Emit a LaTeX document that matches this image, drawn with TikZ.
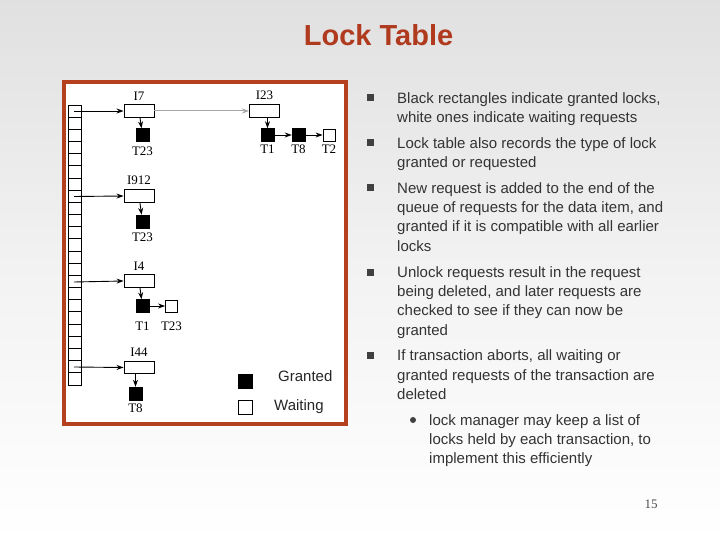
\documentclass[tikz,border=0pt]{standalone}
\usepackage{fontspec}
\setmainfont{Liberation Sans}
\newfontfamily\serifr{Liberation Serif}
\usetikzlibrary{arrows.meta,shadows}
\begin{document}
\begin{tikzpicture}[x=1pt,y=-1pt,
  item/.style={draw,line width=0.9pt,fill=white,minimum width=30pt,minimum height=12.5pt,inner sep=0pt},
  gr/.style={draw,fill=black,minimum size=13pt,inner sep=0pt},
  wt/.style={draw,fill=white,line width=0.8pt,minimum size=12pt,inner sep=0pt},
  lab/.style={font=\serifr\fontsize{13}{13}\selectfont,inner sep=0pt},
  arr/.style={-{Stealth[length=7pt,width=5pt]},line width=0.9pt},
  txt/.style={anchor=base west,inner sep=0pt,font=\fontsize{15}{15}\selectfont,text=black!80},
  bul/.style={fill=black!75,minimum size=7pt,inner sep=0pt}]
\shade[top color=black!12,bottom color=white,middle color=white!95!black] (0,0) rectangle (720,540);
\useasboundingbox (0,0) rectangle (720,540);
\node[font=\bfseries\fontsize{29}{29}\selectfont,text={rgb,255:red,176;green,58;blue,30},
  preaction={}] (title) at (378,35) {\tikz[baseline]\node[inner sep=0pt,anchor=base] at (0,0){};Lock Table};
\draw[line width=4pt,draw={rgb,255:red,181;green,64;blue,31},fill=white] (64,82) rectangle (346,424);
% hash table column
\foreach \i in {0,...,22} \draw[line width=0.8pt] (68,105+\i*12.17) rectangle (81,105+\i*12.17+12.17);
\coordinate (h1) at (74,111); \coordinate (h8) at (74,196.5);
\coordinate (h15) at (74,282); \coordinate (h22) at (74,367);
% items
\node[item] (i7) at (139,111) {}; \node[lab,above=4pt] at (i7.north) {I7};
\node[item] (i23) at (264.5,111) {}; \node[lab,above=4pt] at (i23.north) {I23};
\node[item] (i912) at (139,196) {}; \node[lab,above=4pt] at (i912.north) {I912};
\node[item] (i4) at (139,281) {}; \node[lab,above=4pt] at (i4.north) {I4};
\node[item] (i44) at (139,367.5) {}; \node[lab,above=4pt] at (i44.north) {I44};
\draw[arr] (h1) -- (i7.west);
\draw[arr] (h8) -- (i912.west);
\draw[arr] (h15) -- (i4.west);
\draw[arr] (h22) -- (i44.west);
\draw[-{Stealth[length=7pt,width=5pt]},line width=1pt,draw=black!35] (i7.east) -- (i23.west);
% locks
\node[gr] (a) at (142.5,135) {}; \node[lab,below=5pt] at (a.south) {T23};
\node[gr] (b1) at (267.5,135) {}; \node[lab,below=3pt] at (b1.south) {T1};
\node[gr] (b2) at (298.5,135) {}; \node[lab,below=3pt] at (b2.south) {T8};
\node[wt] (b3) at (329,135) {}; \node[lab,below=3pt] at (b3.south) {T2};
\node[gr] (c) at (142.5,221.5) {}; \node[lab,below=4pt] at (c.south) {T23};
\node[gr] (d1) at (142.5,306) {}; \node[lab,below=9pt] at (d1.south) {T1};
\node[wt] (d2) at (171.5,306) {}; \node[lab,below=9pt] at (d2.south) {T23};
\node[gr] (e) at (135.5,393.5) {}; \node[lab,below=3pt] at (e.south) {T8};
\draw[arr] (i7) -- (a); \draw[arr] (i23.south-|b1) -- (b1);
\draw[arr] (b1) -- (b2); \draw[arr] (b2) -- (b3);
\draw[arr] (i912) -- (c); \draw[arr] (i4) -- (d1); \draw[arr] (d1) -- (d2);
\draw[arr] (i44.south-|e) -- (e);
% legend
\node[gr,minimum size=14pt] (lg) at (245,381) {};
\node[wt,minimum size=14pt] (lw) at (245,407.5) {};
\node[anchor=west,inner sep=0pt,font=\fontsize{15}{15}\selectfont,text=black!85] at (278,376.5) {Granted};
\node[anchor=west,inner sep=0pt,font=\fontsize{15}{15}\selectfont,text=black!85] at (274,407) {Waiting};
% text
\foreach \y in {98,143,188,272,355} \node[bul] at (370,\y) {};
\node[circle,fill=black!75,minimum size=6pt,inner sep=0pt] at (413,420) {};
\foreach \y/\t in {98/{Black rectangles indicate granted locks,},117/{white ones indicate waiting requests},
 143/{Lock table also records the type of lock},162/{granted or requested},
 188/{New request is added to the end of the},207/{queue of requests for the data item, and},226/{granted if it is compatible with all earlier},246/{locks},
 272/{Unlock requests result in the request},291/{being deleted, and later requests are},310/{checked to see if they can now be},330/{granted},
 355/{If transaction aborts, all waiting or},375/{granted requests of the transaction are},394/{deleted}}
 \node[txt] at (397,\y+5.5) {\t};
\foreach \y/\t in {420/{lock manager may keep a list of},439/{locks held by each transaction, to},458/{implement this efficiently}}
 \node[txt] at (429,\y+5.5) {\t};
\node[font=\serifr\fontsize{13}{13}\selectfont,text=black!70] at (651,504) {15};
\end{tikzpicture}
\end{document}
